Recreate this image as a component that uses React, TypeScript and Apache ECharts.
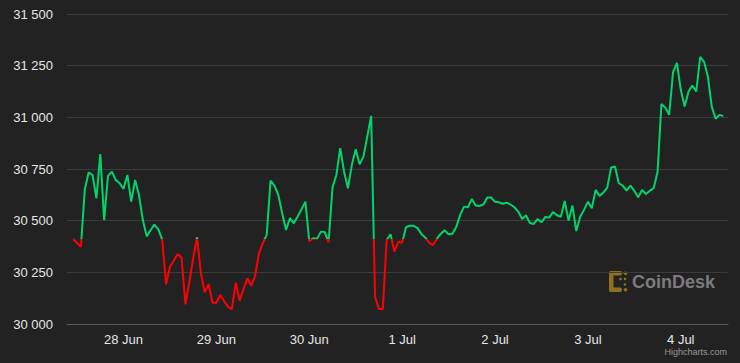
import React, { useEffect, useRef } from "react";
import * as echarts from "echarts";

// Hourly BTC price, first point 27 Jun 11:00 (hour 11 counted from 27 Jun 00:00)
const startHour = 11;
const prices: number[] = [
  30410, 30392, 30374, 30652, 30733, 30721, 30608, 30822, 30503, 30717,
  30737, 30697, 30681, 30654, 30721, 30592, 30697, 30624, 30503, 30424,
  30455, 30481, 30458, 30408, 30192, 30277, 30306, 30339, 30321, 30095,
  30200, 30318, 30420, 30245, 30153, 30193, 30103, 30103, 30140, 30111,
  30084, 30072, 30200, 30113, 30168, 30221, 30185, 30232, 30342, 30391,
  30431, 30694, 30670, 30625, 30536, 30455, 30512, 30487, 30520, 30555,
  30592, 30400, 30415, 30412, 30447, 30445, 30395, 30660, 30721, 30851,
  30737, 30657, 30770, 30846, 30773, 30810, 30907, 31007, 30132, 30072,
  30072, 30406, 30434, 30350, 30398, 30393, 30468, 30476, 30475, 30464,
  30434, 30418, 30393, 30382, 30413, 30437, 30453, 30434, 30437, 30470,
  30528, 30568, 30565, 30605, 30573, 30571, 30578, 30612, 30612, 30591,
  30589, 30582, 30587, 30578, 30565, 30544, 30508, 30526, 30489, 30484,
  30508, 30492, 30518, 30515, 30542, 30526, 30519, 30595, 30500, 30573,
  30450, 30519, 30552, 30592, 30560, 30649, 30620, 30636, 30660, 30757,
  30762, 30681, 30670, 30645, 30670, 30644, 30613, 30649, 30629, 30645,
  30657, 30737, 31064, 31047, 31012, 31219, 31263, 31133, 31052, 31125,
  31154, 31125, 31292, 31270, 31198, 31052, 30993, 31012, 31006,
];

// Day ticks (midnight) in hours from 27 Jun 00:00
const dayTickHours = [24, 48, 72, 96, 120, 144, 168];
const dayLabels = ["28 Jun", "29 Jun", "30 Jun", "1 Jul", "2 Jul", "3 Jul", "4 Jul"];

const yMin = 30000;
const yMax = 31500;
const yStep = 250;

const threshold = prices[0];
const upColor = "#00d46a";
const downColor = "#ff0000";

const FONT = '"Liberation Sans", Arial, Helvetica, sans-serif';
const HOUR = 3600 * 1000;

export default function App() {
  const ref = useRef<HTMLDivElement>(null);

  useEffect(() => {
    if (!ref.current) return;
    const chart = echarts.init(ref.current, undefined, { renderer: "svg" });

    const base = new Date(2023, 5, 27, 0, 0, 0).getTime();
    const data = prices.map((p, i) => [base + (startHour + i) * HOUR, p]);
    const lastHour = startHour + prices.length - 1;
    const tickTimes = dayTickHours.map((h) => base + h * HOUR);

    const gold = "#8f7020";

    chart.setOption({
      animation: false,
      backgroundColor: "#222222",
      textStyle: { fontFamily: FONT },
      grid: { left: 67, right: 12, top: 14, bottom: 39, containLabel: false },
      xAxis: {
        type: "time",
        min: base + (startHour - 1.6) * HOUR,
        max: base + (lastHour + 1.2) * HOUR,
        minInterval: 24 * HOUR,
        maxInterval: 24 * HOUR,
        splitLine: { show: false },
        axisLine: { show: true, lineStyle: { color: "#5a5a5a", width: 1 } },
        axisTick: { show: false },
        axisLabel: {
          formatter: (v: number) => {
            let k = -1;
            for (let j = 0; j < tickTimes.length; j++) {
              if (Math.abs(tickTimes[j] - v) < HOUR / 2) k = j;
            }
            return k >= 0 ? dayLabels[k] : "";
          },
          color: "#e6e6e6",
          fontSize: 13,
          fontFamily: FONT,
          margin: 9,
        },
      },
      yAxis: {
        type: "value",
        min: yMin,
        max: yMax,
        interval: yStep,
        axisLine: { show: false },
        axisTick: { show: false },
        splitLine: { show: true, lineStyle: { color: "#3c3c3c", width: 1 } },
        axisLabel: {
          formatter: (v: number) => {
            const s = String(v);
            return s.length > 3 ? s.slice(0, s.length - 3) + " " + s.slice(-3) : s;
          },
          color: "#e6e6e6",
          fontSize: 13,
          fontFamily: FONT,
          margin: 14,
        },
      },
      series: [
        {
          type: "line",
          data,
          showSymbol: false,
          symbol: "none",
          smooth: false,
          lineStyle: { width: 2, color: upColor },
        },
      ],
      graphic: [
        { type: "rect", shape: { x: 609, y: 271, width: 4.5, height: 21, r: 2 }, style: { fill: gold } },
        { type: "rect", shape: { x: 609, y: 271, width: 13, height: 4.5, r: 2 }, style: { fill: gold } },
        { type: "rect", shape: { x: 609, y: 287.5, width: 13, height: 4.5, r: 2 }, style: { fill: gold } },
        { type: "circle", shape: { cx: 625.5, cy: 273.2, r: 1.8 }, style: { fill: gold } },
        { type: "circle", shape: { cx: 625.5, cy: 289.8, r: 1.8 }, style: { fill: gold } },
        { type: "circle", shape: { cx: 620.5, cy: 279, r: 1.3 }, style: { fill: gold } },
        { type: "circle", shape: { cx: 625, cy: 279, r: 1.3 }, style: { fill: gold } },
        { type: "circle", shape: { cx: 625, cy: 284.5, r: 1.3 }, style: { fill: gold } },
        {
          type: "text",
          x: 632,
          y: 282,
          style: {
            text: "CoinDesk",
            fill: "#7c7c7c",
            font: `bold 18px ${FONT}`,
            align: "left",
            verticalAlign: "middle",
          },
        },
        {
          type: "text",
          x: 727,
          y: 352,
          style: {
            text: "Highcharts.com",
            fill: "#999999",
            font: `9px ${FONT}`,
            align: "right",
            verticalAlign: "middle",
          },
        },
      ],
    });

    // Split colour at the threshold price, located through the chart's own y scale
    const yTop = chart.convertToPixel({ yAxisIndex: 0 }, yMax) as number;
    const yBot = chart.convertToPixel({ yAxisIndex: 0 }, yMin) as number;
    const yThr = chart.convertToPixel({ yAxisIndex: 0 }, threshold) as number;
    const f = (yThr - yTop) / (yBot - yTop);
    chart.setOption({
      series: [
        {
          lineStyle: {
            color: {
              type: "linear",
              x: 0,
              y: yTop,
              x2: 0,
              y2: yBot,
              global: true,
              colorStops: [
                { offset: 0, color: upColor },
                { offset: f, color: upColor },
                { offset: f, color: downColor },
                { offset: 1, color: downColor },
              ],
            },
          },
        },
      ],
    });

    return () => {
      chart.dispose();
    };
  }, []);

  return (
    <div
      ref={ref}
      style={{ position: "fixed", left: 0, top: 0, width: 740, height: 363 }}
    />
  );
}
